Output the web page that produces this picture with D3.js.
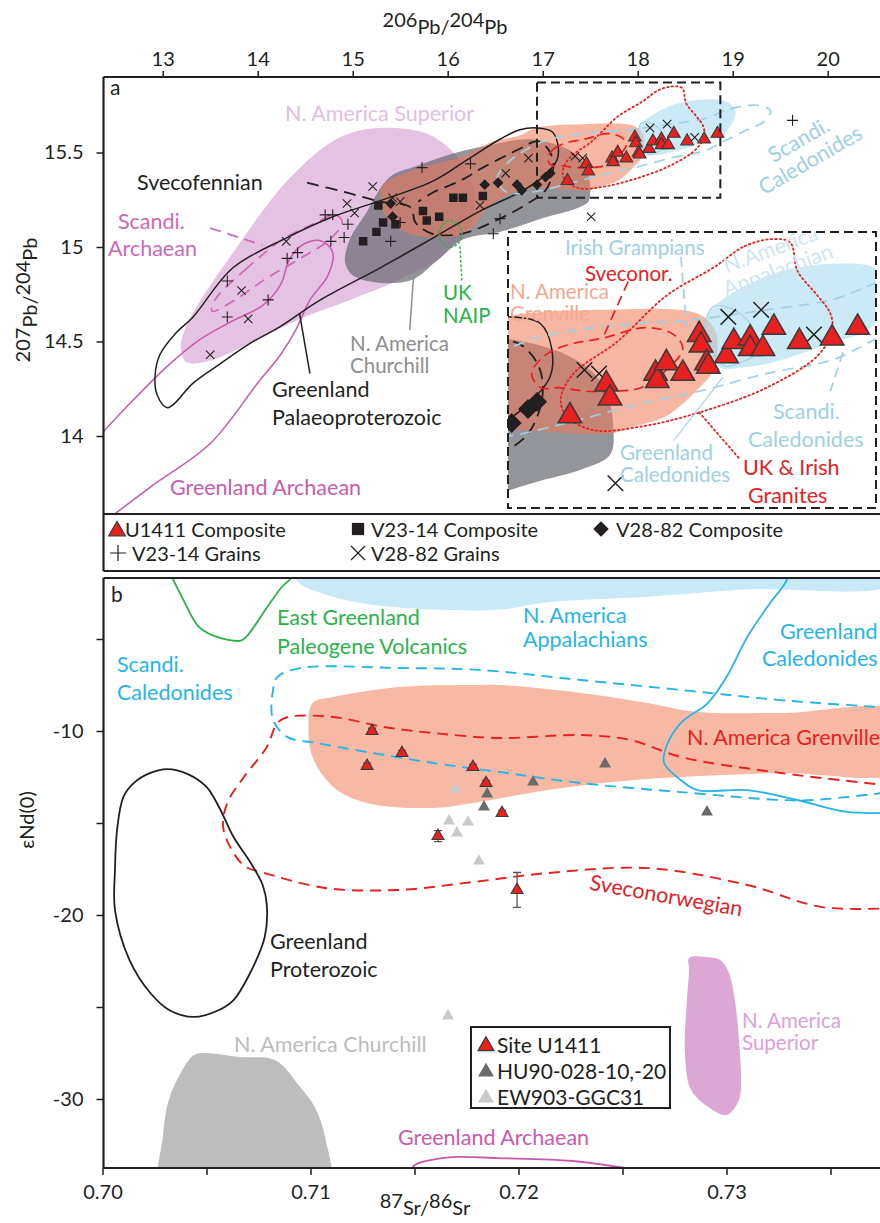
<!DOCTYPE html>
<html>
<head>
<meta charset="utf-8">
<script src="https://cdn.jsdelivr.net/npm/d3@7"></script>
<style>
body{margin:0;background:#fff}
svg{font-family:Lato,"Open Sans",sans-serif}
</style>
</head>
<body>
<svg id="fig" width="880" height="1223"></svg>
<script>
// ---------- panel a : 206Pb/204Pb vs 207Pb/204Pb ----------
const xTicksA = [13,14,15,16,17,18,19,20]
const yTicksA = [14,14.5,15,15.5]

// samples
const u1411A = [[17.26,15.35],[17.46,15.44],[17.48,15.40],[17.73,15.47],[17.74,15.45],[17.79,15.50],[17.88,15.47],[17.97,15.58],[17.98,15.55],[18.01,15.50],[18.02,15.49],[18.12,15.52],[18.16,15.56],[18.25,15.57],[18.25,15.54],[18.32,15.54],[18.38,15.60],[18.52,15.56],[18.70,15.57],[18.84,15.60]]
const v2314Comp = [[15.27,15.22],[15.32,15.13],[15.45,15.12],[15.25,15.08],[15.11,15.03],[15.74,15.19],[15.78,15.14],[15.91,15.16],[16.06,15.26],[16.16,15.26],[16.37,15.27]]
const v2882Comp = [[15.40,15.23],[15.42,15.16],[16.39,15.33],[16.53,15.34],[16.73,15.33],[16.78,15.30],[16.94,15.33],[17.03,15.37],[17.08,15.39]]
const v2314Grains = [[15.73,15.42],[16.24,15.44],[14.71,15.17],[14.79,15.17],[14.95,15.12],[14.91,15.05],[14.77,15.03],[15.50,15.13],[15.40,15.03],[14.42,14.97],[14.31,14.94],[13.68,14.82],[14.11,14.72],[13.68,14.63],[16.55,15.15],[16.48,15.07],[19.63,15.67]]
const v2882Grains = [[15.21,15.32],[15.42,15.26],[15.50,15.24],[14.94,15.23],[15.02,15.18],[14.30,15.03],[13.83,14.77],[13.90,14.62],[13.50,14.43],[16.34,15.22],[16.85,15.47],[16.61,15.39],[18.13,15.63],[18.31,15.65],[17.34,15.48],[17.42,15.47],[18.60,15.58],[17.51,15.16]]

// source fields (outline vertices, data units)
const superiorA = [[13.25,14.39],[13.19,14.47],[13.23,14.56],[13.34,14.67],[13.74,14.97],[14.31,15.35],[14.79,15.56],[15.11,15.62],[15.45,15.63],[15.78,15.60],[16.02,15.52],[16.18,15.42],[16.29,15.27],[16.24,15.12],[15.92,14.94],[15.50,14.83],[14.97,14.72],[14.45,14.62],[13.92,14.49],[13.50,14.40]]
const churchillA = [[15.39,15.37],[15.68,15.43],[16.02,15.49],[16.45,15.54],[16.87,15.57],[17.29,15.51],[17.45,15.43],[17.50,15.30],[17.48,15.24],[17.33,15.20],[17.05,15.16],[16.55,15.08],[16.16,15.04],[15.87,14.92],[15.64,14.83],[15.29,14.81],[15.00,14.85],[14.92,14.92],[14.97,15.04],[15.13,15.17]]
const grenvilleA = [[15.29,15.28],[15.34,15.17],[15.55,15.08],[15.92,15.05],[16.21,15.08],[16.45,15.22],[16.76,15.30],[16.92,15.31],[17.48,15.30],[17.61,15.32],[17.79,15.35],[17.97,15.43],[18.05,15.48],[18.07,15.56],[18.05,15.60],[17.96,15.64],[17.43,15.65],[16.92,15.63],[16.76,15.59],[16.48,15.56],[16.16,15.48],[15.65,15.41],[15.32,15.33]]
const appalachianA = [[17.99,15.57],[18.02,15.64],[18.16,15.70],[18.43,15.76],[18.71,15.78],[18.93,15.77],[19.03,15.72],[19.00,15.66],[18.89,15.59],[18.71,15.56],[18.43,15.51],[18.25,15.49],[18.07,15.49]]
const ukGranitesA = [[18.05,15.77],[18.22,15.83],[18.37,15.85],[18.47,15.84],[18.51,15.76],[18.62,15.69],[18.69,15.64],[18.70,15.59],[18.62,15.52],[18.34,15.43],[17.97,15.36],[17.65,15.32],[17.39,15.31],[17.24,15.35],[17.21,15.40],[17.28,15.47],[17.52,15.56],[17.79,15.69]]
const scCaledA = [[16.52,15.36],[16.62,15.44],[16.88,15.53],[17.15,15.58],[17.61,15.61],[17.90,15.62],[18.34,15.65],[18.71,15.68],[18.97,15.73],[19.25,15.75],[19.40,15.72],[19.32,15.66],[19.15,15.62],[18.91,15.56],[18.71,15.51],[18.34,15.47],[17.97,15.42],[17.61,15.38],[17.24,15.33],[16.88,15.29],[16.62,15.29]]
const sveconorA = [[17.05,15.47],[17.12,15.52],[17.24,15.55],[17.44,15.57],[17.68,15.60],[17.83,15.58],[17.88,15.54],[17.79,15.48],[17.65,15.43],[17.50,15.42],[17.35,15.42],[17.20,15.43],[17.10,15.43]]
const grCaledA = [[18.00,15.60],[18.05,15.66],[18.16,15.65],[18.25,15.61],[18.29,15.56],[18.27,15.52],[18.19,15.50],[18.12,15.49],[18.07,15.51],[18.03,15.55]]
const svecofennianA = [[14.52,15.34],[14.92,15.29],[15.29,15.24],[15.61,15.21],[15.66,15.13],[15.84,15.07],[16.15,15.07],[16.55,15.15],[16.84,15.23],[17.03,15.30],[17.11,15.41],[17.08,15.50],[16.95,15.56],[16.76,15.52],[16.37,15.42],[16.13,15.35],[15.85,15.29],[15.69,15.24]]
const grPalaeoA = [[16.94,15.63],[17.10,15.61],[17.16,15.54],[17.15,15.46],[17.00,15.37],[16.76,15.29],[16.34,15.19],[15.82,15.04],[15.29,14.89],[14.66,14.72],[14.24,14.58],[13.92,14.49],[13.57,14.37],[13.32,14.28],[13.05,14.15],[12.94,14.22],[12.92,14.32],[12.97,14.43],[13.13,14.54],[13.32,14.63],[13.74,14.89],[14.31,15.05],[14.79,15.16],[15.26,15.24],[15.85,15.35],[16.20,15.46],[16.55,15.57],[16.76,15.62]]
const scArchaeanA = [[13.55,14.72],[13.87,14.88],[14.26,15.04],[14.58,15.12],[14.82,15.17],[14.89,15.13],[14.76,15.04],[14.45,14.94],[14.08,14.83],[13.76,14.72],[13.52,14.66]]
const grArchaeanA = [[12.37,14.02],[12.69,14.19],[13.05,14.37],[13.39,14.51],[13.74,14.61],[14.05,14.69],[14.24,14.80],[14.34,14.94],[14.50,15.02],[14.68,15.03],[14.79,14.97],[14.74,14.85],[14.55,14.72],[14.40,14.56],[14.24,14.43],[14.00,14.28],[13.50,13.96],[12.87,13.73],[12.45,13.57]]
const naipA = [[15.91,15.07],[15.95,15.12],[16.03,15.14],[16.11,15.12],[16.15,15.07],[16.11,15.02],[16.03,15.00],[15.95,15.02]]
// enlarged window (inset) and the box marking it
const insetX = [16.92,18.93], insetY = [15.09,15.87]
const markX = [16.94,18.87], markY = [15.26,15.87]

// ---------- panel b : 87Sr/86Sr vs eNd(0) ----------
const xTicksB = [0.70,0.705,0.71,0.715,0.72,0.725,0.73,0.735]
const yTicksB = [-5,-10,-15,-20,-25,-30]
const siteU1411 = [[0.71296,-10.0],[0.71440,-11.20],[0.71272,-11.90],[0.71781,-11.96],[0.71844,-12.83],[0.71921,-14.46],[0.71613,-15.71],[0.71993,-18.64]]
const siteU1411Err = [0.15,0.15,0.15,0.15,0.15,0.15,0.3,0.95]
const hu90 = [[0.71849,-13.42],[0.71834,-14.13],[0.72070,-12.77],[0.72416,-11.79],[0.72906,-14.40]]
const ew903 = [[0.71695,-13.15],[0.71666,-14.89],[0.71757,-14.95],[0.71704,-15.54],[0.71810,-17.07],[0.71661,-25.49]]

const appalachB = [[0.7090,-0.5],[0.7094,-1.9],[0.7105,-2.5],[0.7127,-3.1],[0.7159,-3.4],[0.7191,-3.4],[0.7214,-3.0],[0.7262,-2.7],[0.7310,-2.3],[0.7380,-2.0],[0.7380,-0.5]]
const eGreenlandB = [[0.7030,-0.5],[0.7033,-1.5],[0.7039,-2.9],[0.7046,-4.3],[0.7053,-4.8],[0.7066,-5.1],[0.7069,-4.9],[0.7079,-3.3],[0.7086,-2.2],[0.7092,-1.5],[0.7094,-0.5]]
const scCaledB = [[0.7380,-8.75],[0.7326,-8.32],[0.7278,-7.77],[0.7230,-7.23],[0.7181,-6.68],[0.7143,-6.58],[0.7095,-6.58],[0.7084,-7.07],[0.7082,-7.77],[0.7082,-9.40],[0.7089,-10.33],[0.7103,-10.65],[0.7127,-11.14],[0.7159,-11.74],[0.7191,-12.23],[0.7230,-12.83],[0.7278,-13.32],[0.7326,-13.75],[0.7342,-13.75],[0.7380,-13.30]]
const grenvilleB = [[0.7101,-8.48],[0.7111,-8.15],[0.7143,-7.61],[0.7175,-7.50],[0.7191,-7.50],[0.7230,-7.93],[0.7262,-8.48],[0.7286,-8.97],[0.7326,-9.02],[0.7385,-9.02],[0.7385,-12.12],[0.7326,-12.28],[0.7278,-12.50],[0.7245,-12.77],[0.7214,-13.21],[0.7181,-13.86],[0.7159,-14.18],[0.7127,-13.91],[0.7111,-13.04],[0.7101,-11.41],[0.7099,-9.78]]
const sveconorB = [[0.7380,-12.98],[0.7326,-12.28],[0.7278,-11.41],[0.7254,-10.49],[0.7230,-10.22],[0.7191,-10.38],[0.7159,-10.11],[0.7135,-9.78],[0.7111,-9.24],[0.7089,-9.24],[0.7084,-9.57],[0.7079,-10.87],[0.7068,-12.50],[0.7060,-13.91],[0.7058,-15.22],[0.7063,-16.63],[0.7069,-17.39],[0.7078,-17.72],[0.7107,-18.53],[0.7142,-18.64],[0.7178,-18.21],[0.7214,-17.72],[0.7262,-17.45],[0.7310,-18.37],[0.7346,-19.57],[0.7380,-19.62]]
const grCaledB = [[0.7331,-0.5],[0.7329,-1.79],[0.7321,-3.04],[0.7310,-4.89],[0.7300,-7.07],[0.7291,-8.48],[0.7278,-9.57],[0.7271,-10.87],[0.7270,-11.74],[0.7278,-12.66],[0.7286,-13.21],[0.7310,-13.21],[0.7334,-13.75],[0.7358,-14.40],[0.7385,-14.40]]
const grProterozoicB = [[0.7010,-13.59],[0.7015,-12.83],[0.7023,-12.28],[0.7031,-12.07],[0.7041,-12.34],[0.7050,-13.04],[0.7056,-14.13],[0.7063,-15.76],[0.7071,-17.12],[0.7077,-18.37],[0.7079,-19.46],[0.7078,-21.20],[0.7070,-23.37],[0.7063,-24.62],[0.7056,-25.16],[0.7044,-25.54],[0.7032,-25.16],[0.7023,-24.24],[0.7013,-22.45],[0.7006,-19.73],[0.7006,-17.55],[0.7007,-15.38]]
const superiorB = [[0.7282,-22.34],[0.7290,-22.28],[0.7297,-22.45],[0.7301,-23.10],[0.7304,-24.62],[0.7306,-26.79],[0.7307,-28.97],[0.7306,-30.05],[0.7300,-30.87],[0.7292,-30.49],[0.7283,-29.51],[0.7280,-27.50],[0.7281,-24.62],[0.7282,-22.99]]
const churchillB = [[0.7044,-27.61],[0.7049,-27.50],[0.7066,-27.72],[0.7083,-27.88],[0.7095,-29.35],[0.7102,-30.43],[0.7107,-32.07],[0.7108,-35],[0.7029,-35],[0.7029,-32.07],[0.7032,-30.0],[0.7038,-28.5]]
const grArchaeanB = [[0.7146,-34.3],[0.7150,-33.6],[0.7161,-33.26],[0.7171,-33.15],[0.7190,-33.21],[0.7226,-33.37],[0.7265,-34.0]]

// ---------------------------------------------------------
const svg = d3.select('#fig')
const defs = svg.append('defs')
const INK = '#231f20'
const RED = '#e8201f', LBLUE = '#9fd0e4', BLUE = '#27b4e6', GREEN = '#2bb34a', PINK = '#c95bab'
const FS = 21.5   // label size

const xA = d3.scaleLinear().domain([13,20]).range([162.7,827.7])
const yA = d3.scaleLinear().domain([14,15.5]).range([436,152.5])
const xI = d3.scaleLinear().domain(insetX).range([508,874])
const yI = d3.scaleLinear().domain(insetY).range([508,232])
const xB = d3.scaleLinear().domain([0.70,0.73]).range([102.5,726.5])
const yB = d3.scaleLinear().domain([-30,-10]).range([1099,731])

const A = {l:103.5, t:77, r:884, b:514, lb:571}
const B = {l:103.5, t:578, r:884, b:1168}

defs.append('clipPath').attr('id','clipA').append('rect').attr('x',A.l).attr('y',A.t).attr('width',A.r-A.l).attr('height',A.b-A.t)
defs.append('clipPath').attr('id','clipI').append('rect').attr('x',508).attr('y',232).attr('width',368).attr('height',276)
defs.append('clipPath').attr('id','clipB').append('rect').attr('x',B.l).attr('y',B.t).attr('width',B.r-B.l).attr('height',B.b-B.t)

const closedLine = (x,y) => d3.line().x(d=>x(d[0])).y(d=>y(d[1])).curve(d3.curveCatmullRomClosed.alpha(0.5))
const openLine = (x,y) => d3.line().x(d=>x(d[0])).y(d=>y(d[1])).curve(d3.curveCatmullRom.alpha(0.5))
const straight = (x,y) => d3.line().x(d=>x(d[0])).y(d=>y(d[1]))

function stroke(g, d, color, dash, w) {
  return g.append('path').attr('d', d).attr('fill','none').attr('stroke', color)
    .attr('stroke-width', w).attr('stroke-dasharray', dash).attr('stroke-linecap', dash && dash.startsWith('1.') ? 'round' : 'butt')
}

function text(g, x, y, lines, color, size, lh) {
  const t = g.append('text').attr('x', x).attr('y', y).attr('fill', color).attr('font-size', size || FS)
  lines.forEach((s,i) => t.append('tspan').attr('x', x).attr('dy', i ? (lh || 26) : 0).text(s))
  return t
}

const tri = k => d3.symbol(d3.symbolTriangle, 70*k*k)()
const sq = k => d3.symbol(d3.symbolSquare, 72*k*k)()
const dia = k => d3.symbol(d3.symbolSquare, 58*k*k)()

function plus(g, pts, x, y, a, w) {
  g.selectAll(null).data(pts).enter().append('path')
    .attr('d', d => `M${x(d[0])-a},${y(d[1])}h${2*a}M${x(d[0])},${y(d[1])-a}v${2*a}`)
    .attr('stroke', INK).attr('stroke-width', w).attr('fill','none')
}
function cross(g, pts, x, y, a, w) {
  g.selectAll(null).data(pts).enter().append('path')
    .attr('d', d => `M${x(d[0])-a},${y(d[1])-a}l${2*a},${2*a}M${x(d[0])-a},${y(d[1])+a}l${2*a},${-2*a}`)
    .attr('stroke', INK).attr('stroke-width', w).attr('fill','none')
}

// draws all panel-a content with a given pair of scales (main plot or enlarged inset)
function drawA(g, x, y, k) {
  const cl = closedLine(x,y), op = openLine(x,y)
  g.append('path').attr('d', cl(superiorA)).attr('fill','#d9a9d6').attr('fill-opacity',0.7)
  g.append('path').attr('d', cl(churchillA)).attr('fill','#6b6b75').attr('fill-opacity',0.72)
  g.append('path').attr('d', cl(grenvilleA)).attr('fill','#f07a55').attr('fill-opacity',0.55)
  g.append('path').attr('d', cl(appalachianA)).attr('fill','#a9dcef').attr('fill-opacity',0.6)

  stroke(g, op(grArchaeanA), PINK, null, 1.5)
  stroke(g, cl(scArchaeanA), '#d067b4', '11,7', 1.7)
  stroke(g, cl(grPalaeoA), INK, null, 1.5)
  stroke(g, op(svecofennianA), INK, '12,7', 1.8)
  stroke(g, cl(naipA), GREEN, '1.5,3', 1.6)
  stroke(g, cl(scCaledA), LBLUE, '11,7', 1.7)
  stroke(g, cl(grCaledA), LBLUE, null, 1.1)
  stroke(g, cl(ukGranitesA), RED, '1.5,3', 1.8)
  stroke(g, cl(sveconorA), RED, '10,6', 1.7)

  plus(g, v2314Grains, x, y, 5.5*k, 1.1*Math.sqrt(k))
  cross(g, v2882Grains, x, y, 4.2*k, 1.1*Math.sqrt(k))
  g.selectAll(null).data(v2314Comp).enter().append('path').attr('d', sq(k))
    .attr('transform', d => `translate(${x(d[0])},${y(d[1])})`).attr('fill', INK)
  g.selectAll(null).data(v2882Comp).enter().append('path').attr('d', dia(k))
    .attr('transform', d => `translate(${x(d[0])},${y(d[1])}) rotate(45)`).attr('fill', INK)
  g.selectAll(null).data(u1411A).enter().append('path').attr('d', tri(k))
    .attr('transform', d => `translate(${x(d[0])},${y(d[1])})`)
    .attr('fill', RED).attr('stroke', '#3a3a3a').attr('stroke-width', 1.1*Math.sqrt(k))
}

// ---------- panel a, main ----------
const gA = svg.append('g').attr('clip-path','url(#clipA)')
drawA(gA, xA, yA, 1)
const stA = straight(xA, yA)
stroke(gA, stA([[14.44,14.65],[14.55,14.33]]), INK, null, 1.5)           // Greenland Palaeoproterozoic
stroke(gA, stA([[15.64,14.84],[15.60,14.56]]), '#8e8e8e', null, 1.5)     // Churchill
stroke(gA, stA([[16.13,15.00],[16.15,14.81]]), GREEN, '1.5,3', 1.5)      // UK NAIP
stroke(gA, stA([[13.50,15.10],[14.05,15.01]]), '#d067b4', '11,7', 1.7)   // Scandi Archaean

text(gA, 110, 95, ['a'], INK, 21)
text(gA, 285, 121, ['N. America Superior'], '#e2bde0')
text(gA, 137, 190, ['Svecofennian'], INK)
text(gA, 118, 229, ['Scandi.'], '#d067b4')
text(gA, 108, 256, ['Archaean'], '#d067b4')
text(gA, 443, 300, ['UK','NAIP'], GREEN, 20.5, 23)
text(gA, 350, 351, ['N. America','Churchill'], '#8e8e8e', 20.5, 22)
text(gA, 272, 397, ['Greenland','Palaeoproterozoic'], INK, FS, 28)
text(gA, 170, 495, ['Greenland Archaean'], PINK)
const scLab = gA.append('g').attr('transform','translate(805,151) rotate(-30)')
scLab.append('text').attr('x',0).attr('y',-5).attr('text-anchor','middle').attr('fill',LBLUE).attr('font-size',FS).text('Scandi.')
scLab.append('text').attr('x',0).attr('y',18).attr('text-anchor','middle').attr('fill',LBLUE).attr('font-size',FS).text('Caledonides')

// marker of the enlarged window
svg.append('rect').attr('x', xA(markX[0])).attr('y', yA(markY[1]))
  .attr('width', xA(markX[1]) - xA(markX[0])).attr('height', yA(markY[0]) - yA(markY[1]))
  .attr('fill','none').attr('stroke', INK).attr('stroke-width',2).attr('stroke-dasharray','9,5')

// ---------- panel a, inset ----------
const gI = svg.append('g').attr('clip-path','url(#clipI)')
gI.append('rect').attr('x',508).attr('y',232).attr('width',368).attr('height',276).attr('fill','#fff')
drawA(gI, xI, yI, 1.85)
const stI = straight(xI, yI)
stroke(gI, stI([[17.58,15.73],[17.44,15.57]]), RED, '10,6', 1.7)
stroke(gI, stI([[17.87,15.80],[17.90,15.60]]), LBLUE, '10,6', 1.7)
stroke(gI, stI([[17.83,15.28],[18.10,15.46]]), LBLUE, null, 1.1)
stroke(gI, stI([[18.76,15.53],[18.69,15.42]]), LBLUE, '10,6', 1.7)
stroke(gI, stI([[17.97,15.36],[18.19,15.23]]), RED, '1.5,3', 1.8)
text(gI, 565, 255, ['Irish Grampians'], LBLUE, 20.5)
text(gI, 585, 281, ['Sveconor.'], RED, 20.5)
text(gI, 510, 299, ['N. America','Grenville'], '#f5a88e', 20.5, 22)
text(gI, 773, 419, ['Scandi.'], LBLUE)
text(gI, 748, 447, ['Caledonides'], LBLUE)
text(gI, 620, 460, ['Greenland','Caledonides'], LBLUE, 20.5, 22)
text(gI, 743, 475, ['UK & Irish'], RED)
text(gI, 748, 503, ['Granites'], RED)
const apLab = gI.append('g').attr('transform','translate(775,262) rotate(-20)')
apLab.append('text').attr('x',0).attr('y',-6).attr('text-anchor','middle').attr('fill','#cfe6f0').attr('font-size',FS).text('N.America')
apLab.append('text').attr('x',0).attr('y',16).attr('text-anchor','middle').attr('fill','#cfe6f0').attr('font-size',FS).text('Appalachian')
svg.append('rect').attr('x',508).attr('y',232).attr('width',368).attr('height',276)
  .attr('fill','none').attr('stroke',INK).attr('stroke-width',2).attr('stroke-dasharray','9,5')

// ---------- panel a, axes and legend ----------
const axT = svg.append('g').attr('transform',`translate(0,${A.t})`)
  .call(d3.axisTop(xA).tickValues(xTicksA).tickSize(6).tickPadding(5).tickFormat(d3.format('d')))
const axL = svg.append('g').attr('transform',`translate(${A.l},0)`)
  .call(d3.axisLeft(yA).tickValues(yTicksA).tickSize(7).tickPadding(13).tickFormat(d => String(d)))
;[axT, axL].forEach(a => {
  a.select('.domain').remove()
  a.selectAll('line').attr('stroke', INK).attr('stroke-width', 1.5)
  a.selectAll('text').attr('font-size', 20).attr('fill', INK).attr('font-family','Lato')
})
const frame = (x1,y1,x2,y2) => svg.append('line').attr('x1',x1).attr('y1',y1).attr('x2',x2).attr('y2',y2).attr('stroke',INK).attr('stroke-width',2.2)
frame(A.l, A.t, 884, A.t); frame(A.l, A.t, A.l, A.lb); frame(A.l, A.b, 884, A.b); frame(A.l, A.lb, 884, A.lb)

const LS = 20
const legA = svg.append('g')
legA.append('path').attr('d', d3.symbol(d3.symbolTriangle, 120)()).attr('transform','translate(117,531)')
  .attr('fill', RED).attr('stroke','#3a3a3a').attr('stroke-width',1.2)
legA.append('path').attr('d', d3.symbol(d3.symbolSquare, 150)()).attr('transform','translate(358,529)').attr('fill', INK)
legA.append('path').attr('d', d3.symbol(d3.symbolSquare, 120)()).attr('transform','translate(601,529) rotate(45)').attr('fill', INK)
plus(legA, [[0,0]], d => 118, d => 553, 8, 1.2)
cross(legA, [[0,0]], d => 358, d => 553, 7, 1.2)
text(legA, 125, 537, ['U1411 Composite'], INK, LS)
text(legA, 371, 537, ['V23-14 Composite'], INK, LS)
text(legA, 616, 537, ['V28-82 Composite'], INK, LS)
text(legA, 132, 561, ['V23-14 Grains'], INK, LS)
text(legA, 371, 561, ['V28-82 Grains'], INK, LS)

// axis titles panel a
const tTop = svg.append('text').attr('x',445).attr('y',27).attr('text-anchor','middle').attr('font-size',20).attr('fill',INK)
tTop.append('tspan').text('206'); tTop.append('tspan').attr('dy',7).text('Pb')
tTop.append('tspan').text('/'); tTop.append('tspan').attr('dy',-7).text('204'); tTop.append('tspan').attr('dy',7).text('Pb')
const tLeft = svg.append('text').attr('transform','translate(30,300) rotate(-90)').attr('text-anchor','middle').attr('font-size',20).attr('fill',INK)
tLeft.append('tspan').text('207'); tLeft.append('tspan').attr('dy',7).text('Pb')
tLeft.append('tspan').text('/'); tLeft.append('tspan').attr('dy',-7).text('204'); tLeft.append('tspan').attr('dy',7).text('Pb')

// ---------- panel b ----------
const gB = svg.append('g').attr('clip-path','url(#clipB)')
const clB = closedLine(xB, yB), opB = openLine(xB, yB)
gB.append('path').attr('d', clB(appalachB)).attr('fill','#c8e9f6')
gB.append('path').attr('d', clB(grenvilleB)).attr('fill','#f8b9a4')
gB.append('path').attr('d', clB(churchillB)).attr('fill','#bdbdbd')
gB.append('path').attr('d', clB(superiorB)).attr('fill','#dca7d4')
stroke(gB, opB(eGreenlandB), GREEN, null, 1.8)
stroke(gB, opB(scCaledB), BLUE, '11,7', 1.9)
stroke(gB, opB(sveconorB), RED, '11,7', 1.9)
stroke(gB, opB(grCaledB), BLUE, null, 1.8)
stroke(gB, clB(grProterozoicB), INK, null, 1.8)
stroke(gB, opB(grArchaeanB), PINK, null, 1.8)

const triB = d3.symbol(d3.symbolTriangle, 62)()
gB.selectAll(null).data(ew903).enter().append('path').attr('d', triB)
  .attr('transform', d => `translate(${xB(d[0])},${yB(d[1])})`).attr('fill','#c9c9c9')
gB.selectAll(null).data(hu90).enter().append('path').attr('d', triB)
  .attr('transform', d => `translate(${xB(d[0])},${yB(d[1])})`).attr('fill','#6b6b6b')
const eb = gB.selectAll(null).data(siteU1411).enter().append('g')
eb.append('path').attr('d', (d,i) => {
  const x = xB(d[0]), y1 = yB(d[1] + siteU1411Err[i]), y2 = yB(d[1] - siteU1411Err[i])
  return `M${x},${y1}V${y2}M${x-4},${y1}h8M${x-4},${y2}h8`
}).attr('stroke','#555').attr('stroke-width',1.3).attr('fill','none')
eb.append('path').attr('d', triB).attr('transform', d => `translate(${xB(d[0])},${yB(d[1])})`)
  .attr('fill', RED).attr('stroke','#3a3a3a').attr('stroke-width',1.1)

text(gB, 111, 602, ['b'], INK, 21)
text(gB, 277, 625, ['East Greenland','Paleogene Volcanics'], GREEN, FS, 29)
text(gB, 117, 672, ['Scandi.','Caledonides'], BLUE, FS, 28)
text(gB, 523, 623, ['N. America','Appalachians'], BLUE, FS, 24)
text(gB, 780, 639, ['Greenland'], BLUE)
text(gB, 762, 666, ['Caledonides'], BLUE)
text(gB, 687, 745, ['N. America Grenville'], RED)
text(gB, 270, 949, ['Greenland','Proterozoic'], INK, FS, 28)
text(gB, 234, 1052, ['N. America Churchill'], '#bdbdbd')
text(gB, 742, 1028, ['N. America','Superior'], '#dca0d4', 20.5, 22)
text(gB, 398, 1145, ['Greenland Archaean'], PINK)
gB.append('text').attr('transform','translate(665,903) rotate(10)').attr('text-anchor','middle')
  .attr('fill', RED).attr('font-size',FS).text('Sveconorwegian')

// legend b
const legB = svg.append('g')
legB.append('rect').attr('x',471).attr('y',1027).attr('width',199).attr('height',81).attr('fill','#fff').attr('stroke',INK).attr('stroke-width',2)
const legRows = [['Site U1411', RED, '#3a3a3a'], ['HU90-028-10,-20', '#6b6b6b', 'none'], ['EW903-GGC31', '#c9c9c9', 'none']]
legRows.forEach((r,i) => {
  legB.append('path').attr('d', d3.symbol(d3.symbolTriangle, 110)()).attr('transform',`translate(486,${1046+i*26})`)
    .attr('fill', r[1]).attr('stroke', r[2]).attr('stroke-width',1.2)
  text(legB, 497, 1053+i*26, [r[0]], INK, 21)
})

// axes panel b
const axB = svg.append('g').attr('transform',`translate(0,${B.b})`)
  .call(d3.axisBottom(xB).tickValues(xTicksB).tickSize(7).tickPadding(10).tickFormat(d => Math.round(d*1000)%10===0 ? d3.format('.2f')(d) : ''))
const axBL = svg.append('g').attr('transform',`translate(${B.l},0)`)
  .call(d3.axisLeft(yB).tickValues(yTicksB).tickSize(7).tickPadding(13).tickFormat(d => d%10===0 ? String(d) : ''))
;[axB, axBL].forEach(a => {
  a.select('.domain').remove()
  a.selectAll('line').attr('stroke', INK).attr('stroke-width', 1.5)
  a.selectAll('text').attr('font-size', 20).attr('fill', INK).attr('font-family','Lato')
})
frame(B.l, B.t, 884, B.t); frame(B.l, B.t, B.l, B.b); frame(B.l, B.b, 884, B.b)

const tBot = svg.append('text').attr('x',425).attr('y',1208).attr('text-anchor','middle').attr('font-size',20).attr('fill',INK)
tBot.append('tspan').text('87'); tBot.append('tspan').attr('dy',7).text('Sr')
tBot.append('tspan').text('/'); tBot.append('tspan').attr('dy',-7).text('86'); tBot.append('tspan').attr('dy',7).text('Sr')
svg.append('text').attr('transform','translate(34,820) rotate(-90)').attr('text-anchor','middle')
  .attr('font-size',20).attr('fill',INK).text('εNd(0)')
</script>
</body>
</html>
